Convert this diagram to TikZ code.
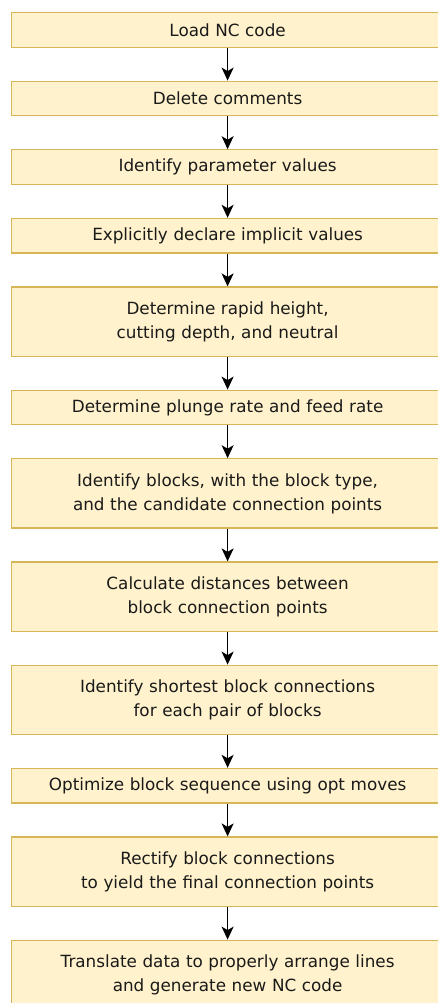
\documentclass[tikz,border=0pt]{standalone}
\usepackage{fontspec}
\newfontfamily\flowfont{DejaVu Sans}
\usetikzlibrary{arrows.meta,positioning}
\definecolor{boxfill}{HTML}{FFF2CC}
\definecolor{boxline}{HTML}{D6B656}
\definecolor{boxtext}{HTML}{1A1A1A}

\begin{document}
\begin{tikzpicture}[->,>={Stealth[length=13pt,width=12pt,inset=3.5pt]},line width=1.5pt,node distance=32.8pt,
  main node/.style={rectangle,draw=boxline,fill=boxfill,line width=1.2pt,text=boxtext,font=\flowfont\fontsize{16.8}{24}\selectfont,align=center,text width=420pt,minimum width=432pt,minimum height=34.6pt,inner sep=0pt},
  tall node/.style={main node,minimum height=69.2pt}]

  \useasboundingbox (0,0) rectangle (438pt,-1003pt);

  \node[main node, anchor=north west] (load) at (11pt,-12pt) {Load NC code};
  \node[main node] (comments) [below=of load] {Delete comments};
  \node[main node] (params) [below=of comments] {Identify parameter values};
  \node[main node] (implicit) [below=of params] {Explicitly declare implicit values};
  \node[tall node] (heights) [below=of implicit] {Determine rapid height,\\cutting depth, and neutral};
  \node[main node] (rates) [below=of heights] {Determine plunge rate and feed rate};
  \node[tall node] (blocks) [below=of rates] {Identify blocks, with the block type,\\and the candidate connection points};
  \node[tall node] (dist) [below=of blocks] {Calculate distances between\\block connection points};
  \node[tall node] (shortest) [below=of dist] {Identify shortest block connections\\for each pair of blocks};
  \node[main node] (optimize) [below=of shortest] {Optimize block sequence using opt moves};
  \node[tall node] (rectify) [below=of optimize] {Rectify block connections\\to yield the final connection points};
  \node[tall node] (translate) [below=of rectify] {Translate data to properly arrange lines\\and generate new NC code};

  \path[->]
       (load) edge (comments)
       (comments) edge (params)
       (params) edge (implicit)
       (implicit) edge (heights)
       (heights) edge (rates)
       (rates) edge (blocks)
       (blocks) edge (dist)
       (dist) edge (shortest)
       (shortest) edge (optimize)
       (optimize) edge (rectify)
       (rectify) edge (translate);
\end{tikzpicture}
\end{document}
